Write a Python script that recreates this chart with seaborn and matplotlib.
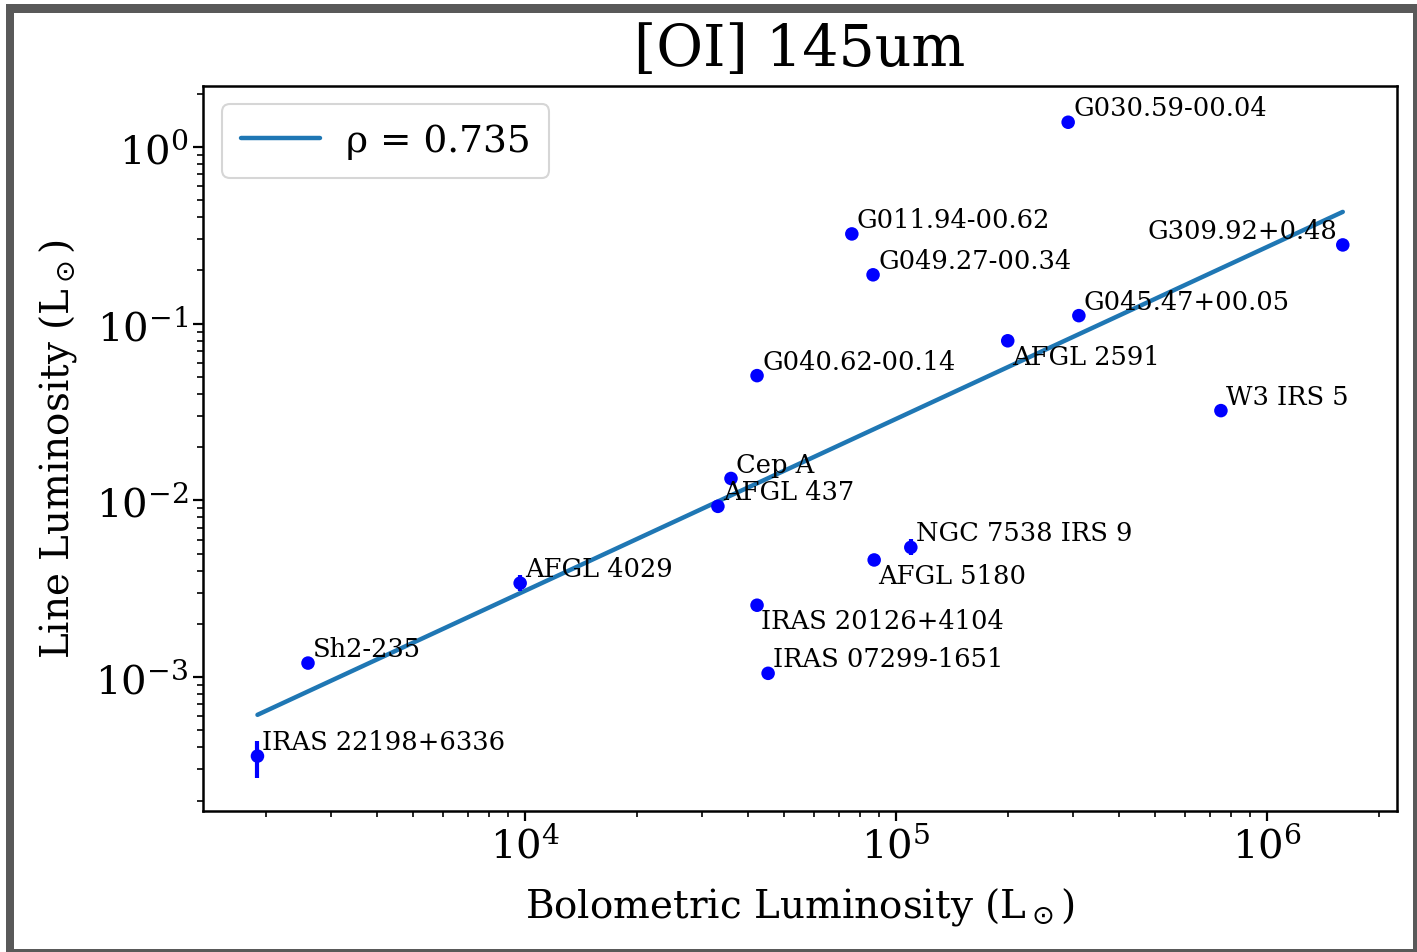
import numpy as np
import pandas as pd
import matplotlib
matplotlib.use("Agg")
import matplotlib.pyplot as plt
from matplotlib.patches import Rectangle
import seaborn as sns

# Source names, bolometric luminosity (Lsun) and [OI] 145um line luminosity (Lsun)
names = [
    "IRAS 22198+6336", "Sh2-235", "AFGL 4029", "AFGL 437", "Cep A",
    "G040.62-00.14", "IRAS 20126+4104", "IRAS 07299-1651", "G011.94-00.62",
    "G049.27-00.34", "AFGL 5180", "NGC 7538 IRS 9", "AFGL 2591",
    "G030.59-00.04", "G045.47+00.05", "W3 IRS 5", "G309.92+0.48",
]
l_bol = [1.90e3, 2.60e3, 9.70e3, 3.31e4, 3.59e4, 4.22e4, 4.22e4, 4.52e4, 7.60e4,
         8.67e4, 8.73e4, 1.096e5, 2.00e5, 2.91e5, 3.11e5, 7.51e5, 1.60e6]
l_line = [3.57e-4, 1.20e-3, 3.40e-3, 9.25e-3, 1.33e-2, 5.08e-2, 2.55e-3, 1.05e-3,
          3.22e-1, 1.89e-1, 4.60e-3, 5.42e-3, 8.00e-2, 1.38, 1.11e-1, 3.22e-2, 2.79e-1]
# asymmetric 1-sigma uncertainties on the line luminosity
err_lo = [0.89e-4, 0, 0.33e-3, 0, 0, 0, 0, 0, 0, 0, 0, 0.53e-3, 0, 0, 0, 0, 0]
err_hi = [0.78e-4, 0, 0.37e-3, 0, 0, 0, 0, 0, 0, 0, 0, 0.59e-3, 0, 0, 0, 0, 0]
# label placement: "above", "below" or "left"
label_pos = ["above", "above", "above", "above", "above", "above", "below", "above",
             "above", "above", "below", "above", "below", "above", "above", "above", "left"]

# log-log power-law fit: log L_line = slope * log L_bol + intercept
fit_slope = 0.973
fit_intercept = -6.404
rho = 0.735

df = pd.DataFrame({"name": names, "lbol": l_bol, "lline": l_line,
                   "elo": err_lo, "ehi": err_hi, "pos": label_pos})

sns.set_style("ticks")
plt.rcParams["font.family"] = ["DejaVu Serif"]
plt.rcParams["mathtext.fontset"] = "dejavusans"
plt.rcParams["text.color"] = "black"
plt.rcParams["axes.labelcolor"] = "black"
plt.rcParams["xtick.color"] = "black"
plt.rcParams["ytick.color"] = "black"

fig = plt.figure(figsize=(14.17, 9.53), dpi=100)
W, H = 1417, 953
# dark frame around the figure
fig.add_artist(Rectangle((6 / W, 0), 1, 1 - 5 / H, transform=fig.transFigure,
                         facecolor="#595959", edgecolor="none", zorder=-20))
fig.add_artist(Rectangle((14 / W, 3 / H), (1413 - 14) / W, (939 - 3) / H,
                         transform=fig.transFigure, facecolor="white",
                         edgecolor="none", zorder=-19))

ax = fig.add_axes([203 / W, 1 - 812 / H, (1397 - 203) / W, (812 - 87) / H])
ax.set_xscale("log")
ax.set_yscale("log")

xfit = np.array([df.lbol.min(), df.lbol.max()])
yfit = 10 ** (fit_slope * np.log10(xfit) + fit_intercept)
sns.lineplot(x=xfit, y=yfit, ax=ax, color="#1f77b4", linewidth=3.2,
             label=f"ρ = {rho}", zorder=2)

has_err = (df.elo > 0) | (df.ehi > 0)
ax.errorbar(df.lbol[has_err], df.lline[has_err],
            yerr=[df.elo[has_err], df.ehi[has_err]], fmt="none",
            ecolor="blue", elinewidth=3, capsize=0, zorder=3)
sns.scatterplot(data=df, x="lbol", y="lline", ax=ax, color="blue", s=95,
                edgecolor="none", zorder=4, legend=False)

offsets = {"above": ((3.6, 5.0), "left"),
           "below": ((3.0, -16.5), "left"),
           "left": ((-3.6, 5.0), "right")}
for _, r in df.iterrows():
    off, ha = offsets[r.pos]
    ax.annotate(r["name"], (r.lbol, r.lline), xytext=off,
                textcoords="offset points", ha=ha, va="baseline",
                fontsize=18.5, color="black", zorder=5)

ax.set_xlim(1.355e3, 2.24e6)
ax.set_ylim(10 ** -3.758, 10 ** 0.345)

ax.set_title("[OI] 145um", fontsize=41, pad=15)
ax.set_xlabel(r"Bolometric Luminosity (L$_\odot$)", fontsize=28, labelpad=14)
ax.set_ylabel(r"Line Luminosity (L$_\odot$)", fontsize=28, labelpad=12)

for s in ax.spines.values():
    s.set_linewidth(1.8)
    s.set_color("black")
ax.tick_params(which="major", length=7, width=1.6, labelsize=29, color="black")
ax.tick_params(which="minor", length=4, width=1.2, color="black")

leg = ax.legend(loc="upper left", fontsize=27, frameon=True, fancybox=True,
                handlelength=2.1, borderpad=0.5, borderaxespad=0,
                handletextpad=0.7, bbox_to_anchor=(0.016, 0.975))
leg.get_frame().set_edgecolor("#cccccc")
leg.get_frame().set_linewidth(1.5)

fig.savefig("out.png", dpi=100, facecolor="white")
